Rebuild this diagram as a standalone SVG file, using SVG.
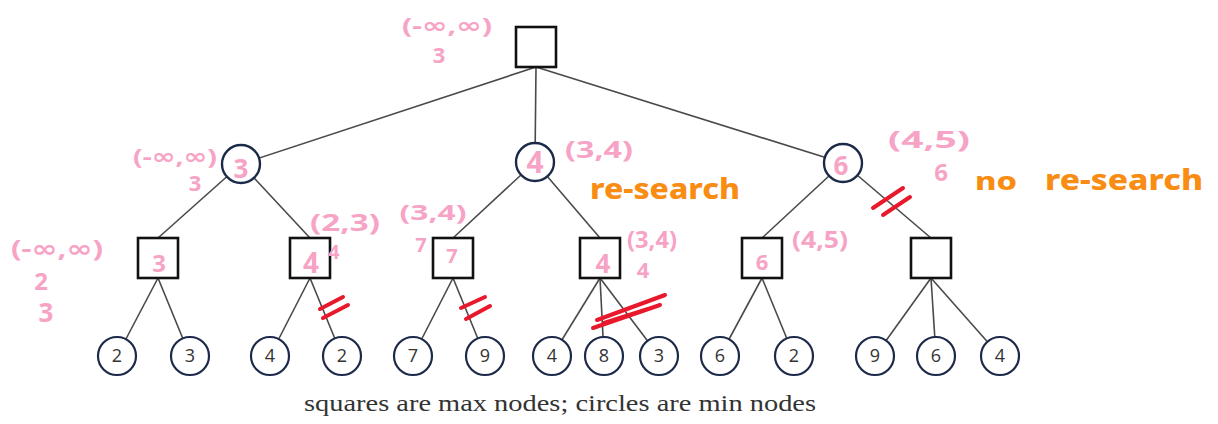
<svg xmlns="http://www.w3.org/2000/svg" width="1218" height="424" viewBox="0 0 1218 424">
<style>
.edge{stroke:#4a4a4a;stroke-width:1.6;fill:none}
.sq{fill:#fff;stroke:#111;stroke-width:2.6}
.ci{fill:#fff;stroke:#1c2a4a;stroke-width:2.4}
.lf{fill:#fff;stroke:#1c2a4a;stroke-width:2.2}
.num{font-family:"Open Sans","Liberation Sans",sans-serif;font-size:18px;fill:#333;text-anchor:middle}
.pk{font-family:"Noto Sans","DejaVu Sans",sans-serif;font-weight:700;fill:#f7a3c6;text-anchor:middle}
.or{font-family:"Noto Sans","DejaVu Sans",sans-serif;font-weight:800;fill:#f98c12}
.cut{stroke:#e8192c;stroke-width:4;stroke-linecap:round;fill:none}
.cap{font-family:"Liberation Serif","DejaVu Serif",serif;font-size:23px;fill:#333}
</style>
<g id="connectors">
<line class="edge" x1="536" y1="67" x2="241" y2="164"/>
<line class="edge" x1="536" y1="67" x2="535" y2="162"/>
<line class="edge" x1="536" y1="67" x2="843" y2="163"/>
<line class="edge" x1="241" y1="164" x2="158" y2="238"/>
<line class="edge" x1="241" y1="164" x2="310" y2="238"/>
<line class="edge" x1="535" y1="162" x2="453" y2="238"/>
<line class="edge" x1="535" y1="162" x2="600" y2="238"/>
<line class="edge" x1="843" y1="163" x2="762" y2="238"/>
<line class="edge" x1="843" y1="163" x2="931" y2="238"/>
<line class="edge" x1="158" y1="278" x2="117" y2="356"/>
<line class="edge" x1="158" y1="278" x2="190" y2="356"/>
<line class="edge" x1="310" y1="278" x2="270" y2="356"/>
<line class="edge" x1="310" y1="278" x2="342" y2="356"/>
<line class="edge" x1="453" y1="278" x2="413" y2="356"/>
<line class="edge" x1="453" y1="278" x2="485" y2="356"/>
<line class="edge" x1="600" y1="278" x2="552" y2="356"/>
<line class="edge" x1="600" y1="278" x2="604" y2="356"/>
<line class="edge" x1="600" y1="278" x2="659" y2="356"/>
<line class="edge" x1="762" y1="278" x2="720" y2="356"/>
<line class="edge" x1="762" y1="278" x2="794" y2="356"/>
<line class="edge" x1="931" y1="278" x2="875" y2="356"/>
<line class="edge" x1="931" y1="278" x2="936" y2="356"/>
<line class="edge" x1="931" y1="278" x2="1000" y2="356"/>
</g>
<g id="root"><rect class="sq" x="516" y="27" width="40" height="40"/></g>
<g id="c1"><circle class="ci" cx="241" cy="164" r="19"/></g>
<g id="c2"><circle class="ci" cx="535" cy="162" r="19"/></g>
<g id="c3"><circle class="ci" cx="843" cy="163" r="19"/></g>
<g id="s1"><rect class="sq" x="138" y="238" width="40" height="40"/></g>
<g id="s2"><rect class="sq" x="290" y="238" width="40" height="40"/></g>
<g id="s3"><rect class="sq" x="433" y="238" width="40" height="40"/></g>
<g id="s4"><rect class="sq" x="580" y="238" width="40" height="40"/></g>
<g id="s5"><rect class="sq" x="742" y="238" width="40" height="40"/></g>
<g id="s6"><rect class="sq" x="911" y="238" width="40" height="40"/></g>
<g id="l1"><circle class="lf" cx="117" cy="356" r="19"/><text class="num" x="117" y="362">2</text></g>
<g id="l2"><circle class="lf" cx="190" cy="356" r="19"/><text class="num" x="190" y="362">3</text></g>
<g id="l3"><circle class="lf" cx="270" cy="356" r="19"/><text class="num" x="270" y="362">4</text></g>
<g id="l4"><circle class="lf" cx="342" cy="356" r="19"/><text class="num" x="342" y="362">2</text></g>
<g id="l5"><circle class="lf" cx="413" cy="356" r="19"/><text class="num" x="413" y="362">7</text></g>
<g id="l6"><circle class="lf" cx="485" cy="356" r="19"/><text class="num" x="485" y="362">9</text></g>
<g id="l7"><circle class="lf" cx="552" cy="356" r="19"/><text class="num" x="552" y="362">4</text></g>
<g id="l8"><circle class="lf" cx="604" cy="356" r="19"/><text class="num" x="604" y="362">8</text></g>
<g id="l9"><circle class="lf" cx="659" cy="356" r="19"/><text class="num" x="659" y="362">3</text></g>
<g id="l10"><circle class="lf" cx="720" cy="356" r="19"/><text class="num" x="720" y="362">6</text></g>
<g id="l11"><circle class="lf" cx="794" cy="356" r="19"/><text class="num" x="794" y="362">2</text></g>
<g id="l12"><circle class="lf" cx="875" cy="356" r="19"/><text class="num" x="875" y="362">9</text></g>
<g id="l13"><circle class="lf" cx="936" cy="356" r="19"/><text class="num" x="936" y="362">6</text></g>
<g id="l14"><circle class="lf" cx="1000" cy="356" r="19"/><text class="num" x="1000" y="362">4</text></g>
<g id="annotations">
<text class="pk" x="447" y="33" font-size="22" textLength="90" lengthAdjust="spacingAndGlyphs">(-∞,∞)</text>
<text class="pk" x="439" y="63" font-size="22">3</text>
<text class="pk" x="175" y="164" font-size="22" textLength="84" lengthAdjust="spacingAndGlyphs">(-∞,∞)</text>
<text class="pk" x="195" y="191" font-size="22">3</text>
<text class="pk" x="241" y="178" font-size="26">3</text>
<text class="pk" x="535" y="173" font-size="30">4</text>
<text class="pk" x="599" y="158" font-size="24" textLength="68" lengthAdjust="spacingAndGlyphs">(3,4)</text>
<text class="pk" x="841" y="175" font-size="26">6</text>
<text class="pk" x="929" y="148" font-size="24" textLength="82" lengthAdjust="spacingAndGlyphs">(4,5)</text>
<text class="pk" x="941" y="181" font-size="24">6</text>
<text class="pk" x="57" y="257" font-size="24" textLength="92" lengthAdjust="spacingAndGlyphs">(-∞,∞)</text>
<text class="pk" x="41" y="290" font-size="24">2</text>
<text class="pk" x="46" y="322" font-size="26">3</text>
<text class="pk" x="159" y="272" font-size="24">3</text>
<text class="pk" x="311" y="273" font-size="28">4</text>
<text class="pk" x="345" y="231" font-size="24" textLength="70" lengthAdjust="spacingAndGlyphs">(2,3)</text>
<text class="pk" x="334" y="259" font-size="20">4</text>
<text class="pk" x="433" y="220" font-size="22" textLength="67" lengthAdjust="spacingAndGlyphs">(3,4)</text>
<text class="pk" x="421" y="252" font-size="20">7</text>
<text class="pk" x="452" y="263" font-size="20">7</text>
<text class="pk" x="603" y="273" font-size="26">4</text>
<text class="pk" x="652" y="248" font-size="24" textLength="50" lengthAdjust="spacingAndGlyphs">(3,4)</text>
<text class="pk" x="643" y="278" font-size="22">4</text>
<text class="pk" x="762" y="270" font-size="22">6</text>
<text class="pk" x="820" y="248" font-size="24" textLength="56" lengthAdjust="spacingAndGlyphs">(4,5)</text>
<text class="or" x="590" y="199" font-size="28" textLength="150" lengthAdjust="spacingAndGlyphs">re-search</text>
<text class="or" x="975" y="190" font-size="24" textLength="42" lengthAdjust="spacingAndGlyphs">no</text>
<text class="or" x="1045" y="190" font-size="28" textLength="158" lengthAdjust="spacingAndGlyphs">re-search</text>
<path class="cut" d="M320,309 L343,297 M323,318 L348,305"/>
<path class="cut" d="M461,308 L485,297 M466,319 L490,306"/>
<path class="cut" d="M597,320 L665,295 M593,328 L660,305 M604,323 L648,309"/>
<path class="cut" d="M873,208 L903,188 M883,215 L910,197"/>
</g>
<text class="cap" x="304" y="411" textLength="512" lengthAdjust="spacingAndGlyphs">squares are max nodes; circles are min nodes</text>
</svg>
